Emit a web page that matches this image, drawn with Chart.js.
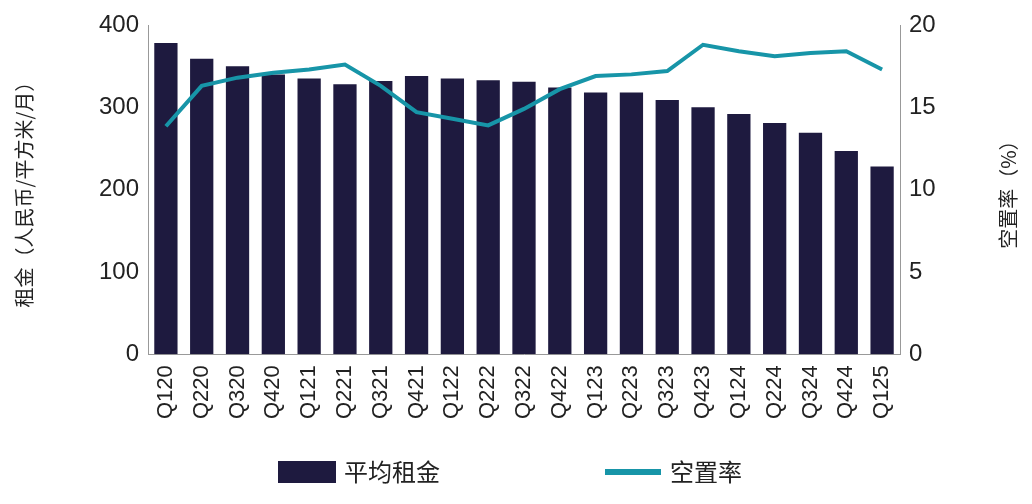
<!DOCTYPE html>
<html><head><meta charset="utf-8">
<script src="https://cdn.jsdelivr.net/npm/chart.js@4"></script>
<style>body{margin:0;background:#fff}#w{width:1032px;height:504px}</style>
</head><body><div id="w"><canvas id="c"></canvas></div>
<script>
const categories=["Q120","Q220","Q320","Q420","Q121","Q221","Q321","Q421","Q122","Q222","Q322","Q422","Q123","Q223","Q323","Q423","Q124","Q224","Q324","Q424","Q125"];
const rent=[378,359,350,340,335,328,332,338,335,333,331,324,318,318,309,300,292,281,269,247,228];
const vacancy=[13.85,16.3,16.8,17.1,17.3,17.6,16.3,14.7,14.3,13.9,14.9,16.1,16.9,17.0,17.2,18.8,18.4,18.1,18.3,18.4,17.3];
const leftTicks=[0,100,200,300,400];
const rightTicks=[0,5,10,15,20];
const F="'Liberation Sans', Arial, sans-serif";
const CJK="'Noto Sans CJK SC', "+F;
const BAR='#1e1a3f', LINE='#1795a8';
const deco={id:'deco',afterDraw(ch){
  const c=ch.ctx, a=ch.chartArea;
  c.save(); c.fillStyle='#222'; c.font='20px '+CJK; c.textAlign='center'; c.textBaseline='middle';
  c.translate(24,(a.top+a.bottom)/2); c.rotate(-Math.PI/2); c.fillText('租金（人民币/平方米/月）',0,0); c.restore();
  c.save(); c.fillStyle='#222'; c.font='20px '+CJK; c.textAlign='center'; c.textBaseline='middle';
  c.translate(1008,(a.top+a.bottom)/2); c.rotate(-Math.PI/2); c.fillText('空置率（%）',0,0); c.restore();
  c.save(); c.font='24px '+CJK; c.textBaseline='middle'; c.fillStyle='#222';
  c.fillStyle=BAR; c.fillRect(278,461,58,22); c.fillStyle='#222'; c.fillText('平均租金',344,472);
  c.fillStyle=LINE; c.fillRect(605,469,56,6); c.fillStyle='#222'; c.fillText('空置率',670,472);
  c.restore();
}};
new Chart(document.getElementById('c'),{
 data:{labels:categories,datasets:[
  {type:'line',label:'空置率',data:vacancy,yAxisID:'y2',borderColor:LINE,backgroundColor:LINE,borderWidth:4,pointRadius:0,tension:0,order:0},
  {type:'bar',label:'平均租金',data:rent,yAxisID:'y',backgroundColor:BAR,categoryPercentage:1,barPercentage:0.65,order:1}
 ]},
 options:{responsive:true,maintainAspectRatio:false,animation:false,
  layout:{padding:{left:48,right:88,top:25,bottom:82}},
  plugins:{legend:{display:false},tooltip:{enabled:false}},
  scales:{
   x:{grid:{display:false,drawTicks:true,tickLength:8},border:{color:'#999'},ticks:{font:{family:F,size:22},color:'#222',maxRotation:90,minRotation:90,autoSkip:false}},
   y:{min:0,max:400,afterBuildTicks(a){a.ticks=leftTicks.map(v=>({value:v}))},afterFit(a){a.width=100},grid:{display:false,drawTicks:true,tickLength:6},border:{color:'#999'},
      ticks:{font:{family:F,size:24},color:'#222'}},
   y2:{position:'right',min:0,max:20,afterBuildTicks(a){a.ticks=rightTicks.map(v=>({value:v}))},afterFit(a){a.width=44},grid:{display:false,drawTicks:true,tickLength:6},border:{color:'#999'},
      ticks:{font:{family:F,size:24},color:'#222'}}
  }},
 plugins:[deco]
});
</script></body></html>
